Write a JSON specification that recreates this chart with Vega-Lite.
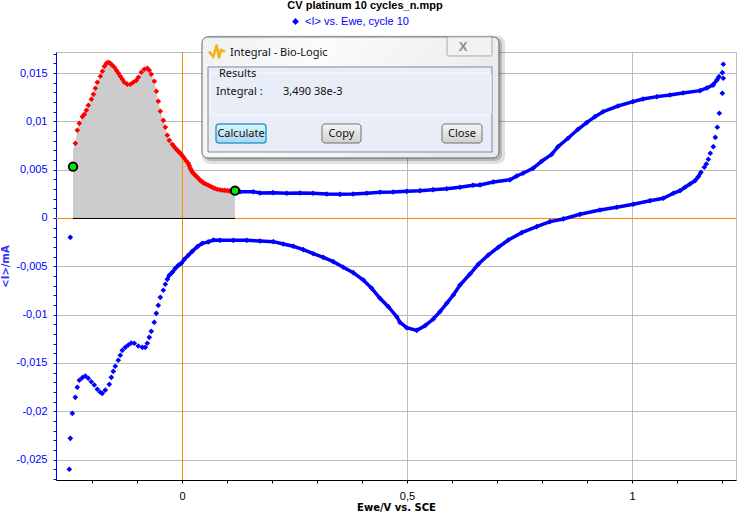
{
"$schema":"https://vega.github.io/schema/vega-lite/v6.json",
"width":680,"height":428,"autosize":"none",
"padding":{"left":56,"top":52,"right":1,"bottom":32},
"background":"white",
"view":{"stroke":"#bbbbbb"},
"config":{"font":"Liberation Sans"},
"title":{"text":"CV platinum 10 cycles_n.mpp","anchor":"middle","frame":"group","dx":-31,"offset":5,"fontSize":11,"fontWeight":"bold","font":"Liberation Sans","color":"black"},
"data":{"values":[{}]},
"datasets":{
"selected":[{"E":-0.2422,"I":0.0071,"edge":true},{"E":-0.237,"I":0.00773},{"E":-0.2327,"I":0.00908},{"E":-0.2282,"I":0.0098},{"E":-0.2215,"I":0.01049},{"E":-0.217,"I":0.01073},{"E":-0.2126,"I":0.01115},{"E":-0.2082,"I":0.01167},{"E":-0.2015,"I":0.01229},{"E":-0.197,"I":0.0128},{"E":-0.1926,"I":0.01343},{"E":-0.1882,"I":0.01405},{"E":-0.1815,"I":0.01467},{"E":-0.177,"I":0.01519},{"E":-0.1726,"I":0.0157},{"E":-0.1682,"I":0.016},{"E":-0.1637,"I":0.01612},{"E":-0.1593,"I":0.016},{"E":-0.1548,"I":0.0158},{"E":-0.1504,"I":0.0156},{"E":-0.146,"I":0.0153},{"E":-0.1415,"I":0.015},{"E":-0.137,"I":0.01467},{"E":-0.1326,"I":0.01436},{"E":-0.1282,"I":0.01405},{"E":-0.1215,"I":0.01384},{"E":-0.1148,"I":0.01384},{"E":-0.1082,"I":0.01405},{"E":-0.1015,"I":0.01425},{"E":-0.097,"I":0.01457},{"E":-0.0904,"I":0.01508},{"E":-0.0838,"I":0.01539},{"E":-0.077,"I":0.0155},{"E":-0.0727,"I":0.01529},{"E":-0.0682,"I":0.01488},{"E":-0.0615,"I":0.01415},{"E":-0.057,"I":0.01312},{"E":-0.0526,"I":0.01208},{"E":-0.0482,"I":0.01105},{"E":-0.0415,"I":0.01011},{"E":-0.037,"I":0.00939},{"E":-0.0326,"I":0.00856},{"E":-0.0282,"I":0.00804},{"E":-0.0215,"I":0.00763},{"E":-0.0181,"I":0.00742},{"E":-0.0148,"I":0.00722},{"E":-0.0115,"I":0.00706},{"E":-0.0082,"I":0.0069},{"E":-0.0048,"I":0.00674},{"E":-0.0015,"I":0.00659},{"E":0.0018,"I":0.00638},{"E":0.0051,"I":0.00618},{"E":0.0096,"I":0.0059},{"E":0.014,"I":0.00566},{"E":0.0162,"I":0.0054},{"E":0.0184,"I":0.00514},{"E":0.0207,"I":0.00493},{"E":0.0229,"I":0.00473},{"E":0.0262,"I":0.00457},{"E":0.0296,"I":0.00442},{"E":0.0329,"I":0.00426},{"E":0.0362,"I":0.00411},{"E":0.0395,"I":0.00395},{"E":0.0429,"I":0.0038},{"E":0.0462,"I":0.00369},{"E":0.0496,"I":0.00359},{"E":0.054,"I":0.00349},{"E":0.0584,"I":0.00339},{"E":0.0628,"I":0.00328},{"E":0.0673,"I":0.00318},{"E":0.0728,"I":0.00307},{"E":0.0784,"I":0.00297},{"E":0.084,"I":0.00292},{"E":0.0896,"I":0.00287},{"E":0.095,"I":0.00285},{"E":0.1007,"I":0.00283},{"E":0.1055,"I":0.0028},{"E":0.1104,"I":0.00276},{"E":0.1178,"I":0.00283,"edge":true}],
"cycle":[
{"b":"a","E":0.1178,"I":0.00283},{"b":"a","E":0.1289,"I":0.00272},{"b":"a","E":0.1584,"I":0.00272},{"b":"a","E":0.1733,"I":0.00259},{"b":"a","E":0.2022,"I":0.00262},{"b":"a","E":0.2327,"I":0.00256},{"b":"a","E":0.2622,"I":0.00259},{"b":"a","E":0.2911,"I":0.00256},{"b":"a","E":0.3216,"I":0.00248},{"b":"a","E":0.3511,"I":0.00245},{"b":"a","E":0.38,"I":0.00248},{"b":"a","E":0.4104,"I":0.00256},{"b":"a","E":0.44,"I":0.00266},{"b":"a","E":0.4689,"I":0.00269},{"b":"a","E":0.4993,"I":0.00276},{"b":"a","E":0.5289,"I":0.00283},{"b":"a","E":0.5578,"I":0.00293},{"b":"a","E":0.5882,"I":0.00303},{"b":"a","E":0.6178,"I":0.00318},{"b":"a","E":0.6467,"I":0.00339},{"b":"a","E":0.6622,"I":0.00342},{"b":"a","E":0.6918,"I":0.00373},{"b":"a","E":0.7289,"I":0.00396},{"b":"a","E":0.7438,"I":0.00435},{"b":"a","E":0.7578,"I":0.00463},{"b":"a","E":0.78,"I":0.00514},{"b":"a","E":0.7993,"I":0.00587},{"b":"a","E":0.8216,"I":0.00659},{"b":"a","E":0.8356,"I":0.00738},{"b":"a","E":0.8578,"I":0.00825},{"b":"a","E":0.88,"I":0.00918},{"b":"a","E":0.8993,"I":0.00987},{"b":"a","E":0.9178,"I":0.01049},{"b":"a","E":0.9356,"I":0.011},{"b":"a","E":0.9689,"I":0.01159},{"b":"a","E":1.0022,"I":0.01204},{"b":"a","E":1.0244,"I":0.01232},{"b":"a","E":1.0556,"I":0.01256},{"b":"a","E":1.0844,"I":0.01273},{"b":"a","E":1.1133,"I":0.01294},{"b":"a","E":1.1511,"I":0.01318},{"b":"a","E":1.1667,"I":0.01346},{"b":"a","E":1.18,"I":0.01377},{"b":"a","E":1.1889,"I":0.01429},{"b":"a","E":1.1933,"I":0.01463},
{"b":"c","E":1.1533,"I":0.00473},{"b":"c","E":1.1473,"I":0.00428},{"b":"c","E":1.14,"I":0.00386},{"b":"c","E":1.1289,"I":0.00352},{"b":"c","E":1.1178,"I":0.00318},{"b":"c","E":1.1067,"I":0.00283},{"b":"c","E":1.0918,"I":0.00256},{"b":"c","E":1.0696,"I":0.00204},{"b":"c","E":1.04,"I":0.00179},{"b":"c","E":1.0029,"I":0.00142},{"b":"c","E":0.966,"I":0.00111},{"b":"c","E":0.9289,"I":0.00083},{"b":"c","E":0.8844,"I":0.00038},{"b":"c","E":0.8473,"I":-0.0001},{"b":"c","E":0.8178,"I":-0.00038},{"b":"c","E":0.7882,"I":-0.0009},{"b":"c","E":0.7549,"I":-0.00152},{"b":"c","E":0.7251,"I":-0.00228},{"b":"c","E":0.7029,"I":-0.00303},{"b":"c","E":0.6807,"I":-0.00383},{"b":"c","E":0.6584,"I":-0.00479},{"b":"c","E":0.64,"I":-0.0058},{"b":"c","E":0.6178,"I":-0.00694},{"b":"c","E":0.6029,"I":-0.00797},{"b":"c","E":0.5882,"I":-0.00883},{"b":"c","E":0.5733,"I":-0.0097},{"b":"c","E":0.5584,"I":-0.01046},{"b":"c","E":0.54,"I":-0.01115},{"b":"c","E":0.5216,"I":-0.01163},{"b":"c","E":0.4993,"I":-0.01136},{"b":"c","E":0.4844,"I":-0.0108},{"b":"c","E":0.4771,"I":-0.01022},{"b":"c","E":0.4584,"I":-0.00918},{"b":"c","E":0.44,"I":-0.00831},{"b":"c","E":0.4216,"I":-0.00728},{"b":"c","E":0.4029,"I":-0.00642},{"b":"c","E":0.3807,"I":-0.00566},{"b":"c","E":0.3584,"I":-0.0051},{"b":"c","E":0.3362,"I":-0.00452},{"b":"c","E":0.314,"I":-0.00407},{"b":"c","E":0.2918,"I":-0.0037},{"b":"c","E":0.2696,"I":-0.00328},{"b":"c","E":0.2473,"I":-0.00293},{"b":"c","E":0.2251,"I":-0.00269},{"b":"c","E":0.2029,"I":-0.00245},{"b":"c","E":0.1733,"I":-0.00238},{"b":"c","E":0.1438,"I":-0.00231},{"b":"c","E":0.114,"I":-0.00231},{"b":"c","E":0.0844,"I":-0.00231},{"b":"c","E":0.0696,"I":-0.00228},{"b":"c","E":0.0584,"I":-0.00248},{"b":"c","E":0.0451,"I":-0.00262},{"b":"c","E":0.034,"I":-0.00297},{"b":"c","E":0.0229,"I":-0.00345},{"b":"c","E":0.014,"I":-0.00386},{"b":"c","E":0.0051,"I":-0.00428},{"b":"c","E":-0.0016,"I":-0.00469},{"b":"c","E":-0.0082,"I":-0.0049},{"b":"c","E":-0.0149,"I":-0.00521},{"b":"c","E":-0.0216,"I":-0.00562},{"b":"c","E":-0.0282,"I":-0.00593},{"b":"c","E":-0.0327,"I":-0.00635}],
"tips":[{"E":1.18,"I":0.01377},{"E":1.2029,"I":0.01591},{"E":1.2007,"I":0.01504},{"E":1.2029,"I":0.01446},{"E":1.2007,"I":0.01291},{"E":1.194,"I":0.01084},{"E":1.1896,"I":0.00939},{"E":1.1851,"I":0.00835},{"E":1.1807,"I":0.00738},{"E":1.174,"I":0.0067},{"E":1.1696,"I":0.00608},{"E":1.1651,"I":0.00559},{"E":1.1607,"I":0.00525},
{"E":-0.0371,"I":-0.00686},{"E":-0.0416,"I":-0.00748},{"E":-0.0482,"I":-0.00821},{"E":-0.0527,"I":-0.00904},{"E":-0.0571,"I":-0.00987},{"E":-0.0616,"I":-0.0108},{"E":-0.0682,"I":-0.01173},{"E":-0.0727,"I":-0.01235},{"E":-0.0771,"I":-0.01297},{"E":-0.0816,"I":-0.01339},{"E":-0.0882,"I":-0.01339},{"E":-0.0971,"I":-0.01325},{"E":-0.106,"I":-0.01297},{"E":-0.1127,"I":-0.01294},{"E":-0.1193,"I":-0.01315},{"E":-0.126,"I":-0.01339},{"E":-0.1327,"I":-0.0137},{"E":-0.1371,"I":-0.01421},{"E":-0.1416,"I":-0.01473},{"E":-0.1482,"I":-0.01535},{"E":-0.1527,"I":-0.01587},{"E":-0.1571,"I":-0.01649},{"E":-0.1616,"I":-0.01722},{"E":-0.1704,"I":-0.01781},{"E":-0.1771,"I":-0.01815},{"E":-0.1816,"I":-0.01804},{"E":-0.1882,"I":-0.01773},{"E":-0.1949,"I":-0.01729},{"E":-0.2016,"I":-0.01695},{"E":-0.2082,"I":-0.01659},{"E":-0.2149,"I":-0.01636},{"E":-0.2216,"I":-0.01653},{"E":-0.2282,"I":-0.0168},{"E":-0.2327,"I":-0.01753},{"E":-0.2371,"I":-0.01856},{"E":-0.2438,"I":-0.02022},{"E":-0.2482,"I":-0.02281},{"E":-0.2504,"I":-0.02601},{"E":-0.2482,"I":-0.002}],
"logo":[{"E":0.06,"I":0.01722},{"E":0.0696,"I":0.0167},{"E":0.0771,"I":0.01791},{"E":0.0822,"I":0.01653},{"E":0.0867,"I":0.01739},{"E":0.0956,"I":0.01722}],
"leftText":[{"E":0.1067,"I":0.01712,"t":"Integral - Bio-Logic"},{"E":0.0822,"I":0.01486,"t":"Results"},{"E":0.0756,"I":0.01299,"t":"Integral :"},{"E":0.2244,"I":0.01299,"t":"3,490 38e-3"}],
"centerText":[{"E":0.1311,"I":0.00872,"t":"Calculate"},{"E":0.3544,"I":0.00872,"t":"Copy"},{"E":0.6222,"I":0.00872,"t":"Close"}]
},
"layer":[
{"data":{"name":"selected"},"mark":{"type":"area","color":"#cccccc"},
 "encoding":{
 "x":{"field":"E","type":"quantitative","scale":{"domain":[-0.28,1.2311],"nice":false,"zero":false},
  "axis":{"title":"Ewe/V vs. SCE","titleFont":"DejaVu Sans","titleFontSize":10,"titleFontWeight":"bold","titleColor":"black","titleY":27,"titleBaseline":"middle",
   "values":[-0.2,-0.1,0,0.1,0.2,0.3,0.4,0.5,0.6,0.7,0.8,0.9,1,1.1,1.2],"tickCount":40,
   "labelExpr":"abs(datum.value*2-round(datum.value*2))<1e-6 ? replace(format(datum.value,'.1~f'),'.',',') : ''",
   "labelFontSize":11,"labelColor":"black","labelPadding":7,"labelOverlap":false,"labelFlush":false,
   "domainColor":"black","tickColor":"black","tickSize":3,
   "grid":true,"gridColor":"#bbbbbb","gridWidth":1,
   "gridOpacity":{"condition":{"test":"abs(datum.value*2-round(datum.value*2))<1e-6","value":1},"value":0},
   "encode":{"ticks":{"update":{"y2":{"signal":"abs(datum.value*2-round(datum.value*2))<1e-6 ? 6 : 3"}}}}}},
 "y":{"field":"I","type":"quantitative","scale":{"domain":[-0.02712,0.01718],"nice":false,"zero":false},
  "axis":{"title":"<I>/mA","titleFont":"DejaVu Sans","titleFontSize":10,"titleFontWeight":"bold","titleColor":"#3030ff","titleX":-51,"titleBaseline":"middle",
   "values":[-0.027,-0.026,-0.025,-0.024,-0.023,-0.022,-0.021,-0.02,-0.019,-0.018,-0.017,-0.016,-0.015,-0.014,-0.013,-0.012,-0.011,-0.01,-0.009,-0.008,-0.007,-0.006,-0.005,-0.004,-0.003,-0.002,-0.001,0,0.001,0.002,0.003,0.004,0.005,0.006,0.007,0.008,0.009,0.01,0.011,0.012,0.013,0.014,0.015,0.016,0.017],"tickCount":100,
   "labelExpr":"abs(datum.value/0.005-round(datum.value/0.005))<1e-6 ? replace(replace(format(datum.value,'.3~f'),'.',','),'−','-') : ''",
   "labelFontSize":11,"labelColor":"#0000ff","labelPadding":6,"labelOverlap":false,"labelFlush":false,
   "domainColor":"#0000ff","tickColor":"#0000ff","tickSize":3,
   "grid":true,"gridColor":"#bbbbbb","gridWidth":1,
   "gridOpacity":{"condition":{"test":"abs(datum.value/0.005-round(datum.value/0.005))<1e-6","value":1},"value":0},
   "encode":{"ticks":{"update":{"x2":{"signal":"abs(datum.value/0.005-round(datum.value/0.005))<1e-6 ? -6 : -3"}}}}}},
 "y2":{"datum":0}
 }},
{"mark":{"type":"rule","color":"#ff8800","strokeWidth":1},"encoding":{"x":{"datum":0.0011}}},
{"mark":{"type":"rule","color":"#ff8800","strokeWidth":1},"encoding":{"y":{"datum":-0.00005}}},
{"mark":{"type":"rule","color":"black","strokeWidth":1},"encoding":{"x":{"datum":-0.2422},"x2":{"datum":0.1178},"y":{"datum":-0.00005}}},
{"data":{"name":"cycle"},"mark":{"type":"line","color":"#0000ff","strokeWidth":3.5},"encoding":{"x":{"field":"E","type":"quantitative"},"y":{"field":"I","type":"quantitative"},"detail":{"field":"b"}}},
{"data":{"name":"cycle"},"mark":{"type":"point","shape":"diamond","filled":true,"size":32,"opacity":1},
 "encoding":{"x":{"field":"E","type":"quantitative"},"y":{"field":"I","type":"quantitative"},
 "color":{"datum":"<I> vs. Ewe, cycle 10","scale":{"range":["#0000ff"]},
  "legend":{"title":null,"orient":"none","legendX":234,"legendY":-36,"symbolType":"diamond","symbolSize":22,"symbolFillColor":"#0000ff","symbolStrokeColor":"#0000ff","labelColor":"#0000ff","labelFontSize":11,"labelFont":"Liberation Sans","padding":0}}}},
{"data":{"name":"tips"},"mark":{"type":"point","shape":"diamond","filled":true,"size":32,"color":"#0000ff","opacity":1},"encoding":{"x":{"field":"E","type":"quantitative"},"y":{"field":"I","type":"quantitative"}}},
{"data":{"name":"selected"},"transform":[{"filter":"!datum.edge"}],"mark":{"type":"point","shape":"diamond","filled":true,"size":32,"color":"#ff0000","opacity":1},"encoding":{"x":{"field":"E","type":"quantitative"},"y":{"field":"I","type":"quantitative"}}},
{"data":{"values":[{"E":-0.2422,"I":0.00531},{"E":0.1178,"I":0.00283}]},"mark":{"type":"point","shape":"circle","filled":true,"size":70,"color":"#00ee00","stroke":"black","strokeWidth":2,"opacity":1},"encoding":{"x":{"field":"E","type":"quantitative"},"y":{"field":"I","type":"quantitative"}}},
{"mark":{"type":"rect","color":"#000000","opacity":0.12,"cornerRadius":8},"encoding":{"x":{"datum":0.0444},"x2":{"datum":0.7178},"y":{"datum":0.0189},"y2":{"datum":0.0056}}},
{"mark":{"type":"rect","color":"#000000","opacity":0.18,"cornerRadius":7},"encoding":{"x":{"datum":0.0489},"x2":{"datum":0.7111},"y":{"datum":0.0187},"y2":{"datum":0.0059}}},
{"mark":{"type":"rect","fill":{"gradient":"linear","x1":0,"y1":0,"x2":1,"y2":0.3,"stops":[{"offset":0,"color":"#eef0f3"},{"offset":0.4,"color":"#fbfbfb"},{"offset":1,"color":"#e9ecef"}]},"stroke":"#5f6366","strokeWidth":1,"cornerRadius":6},"encoding":{"x":{"datum":0.0444},"x2":{"datum":0.7044},"y":{"datum":0.01874},"y2":{"datum":0.00621}}},
{"mark":{"type":"rect","fill":"#f2f2f2","stroke":"#a8a8a8","strokeWidth":1,"cornerRadius":2},"encoding":{"x":{"datum":0.5889},"x2":{"datum":0.6889},"y":{"datum":0.01874},"y2":{"datum":0.01677}}},
{"mark":{"type":"text","text":"X","font":"Liberation Sans","fontWeight":"bold","fontSize":13,"color":"#8a8f96","align":"center","baseline":"middle"},"encoding":{"x":{"datum":0.6244},"y":{"datum":0.0177}}},
{"mark":{"type":"rect","fill":"#e8edf8","stroke":"#7d8a99","strokeWidth":1},"encoding":{"x":{"datum":0.0578},"x2":{"datum":0.6889},"y":{"datum":0.01563},"y2":{"datum":0.00683}}},
{"mark":{"type":"rect","fill":"#e8edf8","stroke":"#f8fafd","strokeWidth":1,"cornerRadius":2},"encoding":{"x":{"datum":0.0622},"x2":{"datum":0.6867},"y":{"datum":0.01501},"y2":{"datum":0.01066}}},
{"mark":{"type":"rect","fill":"#e8edf8"},"encoding":{"x":{"datum":0.0778},"x2":{"datum":0.1667},"y":{"datum":0.01522},"y2":{"datum":0.0148}}},
{"mark":{"type":"rect","fill":{"gradient":"linear","x1":0,"y1":0,"x2":0,"y2":1,"stops":[{"offset":0,"color":"#dff3fc"},{"offset":1,"color":"#a8d8f0"}]},"stroke":"#2f9fd0","strokeWidth":1.5,"cornerRadius":3},"encoding":{"x":{"datum":0.0756},"x2":{"datum":0.1867},"y":{"datum":0.00973},"y2":{"datum":0.00776}}},
{"mark":{"type":"rect","fill":{"gradient":"linear","x1":0,"y1":0,"x2":0,"y2":1,"stops":[{"offset":0,"color":"#f6f6f6"},{"offset":1,"color":"#d0d0d0"}]},"stroke":"#707070","strokeWidth":1,"cornerRadius":3},"encoding":{"x":{"datum":0.3111},"x2":{"datum":0.3978},"y":{"datum":0.00973},"y2":{"datum":0.00776}}},
{"mark":{"type":"rect","fill":{"gradient":"linear","x1":0,"y1":0,"x2":0,"y2":1,"stops":[{"offset":0,"color":"#f6f6f6"},{"offset":1,"color":"#d0d0d0"}]},"stroke":"#707070","strokeWidth":1,"cornerRadius":3},"encoding":{"x":{"datum":0.5778},"x2":{"datum":0.6667},"y":{"datum":0.00973},"y2":{"datum":0.00776}}},
{"data":{"name":"logo"},"mark":{"type":"line","color":"#f5b010","strokeWidth":2.5},"encoding":{"x":{"field":"E","type":"quantitative"},"y":{"field":"I","type":"quantitative"}}},
{"data":{"name":"leftText"},"mark":{"type":"text","font":"Noto Sans","fontSize":11,"color":"#101010","align":"left","baseline":"middle"},"encoding":{"x":{"field":"E","type":"quantitative"},"y":{"field":"I","type":"quantitative"},"text":{"field":"t"}}},
{"data":{"name":"centerText"},"mark":{"type":"text","font":"Noto Sans","fontSize":11,"color":"#101010","align":"center","baseline":"middle"},"encoding":{"x":{"field":"E","type":"quantitative"},"y":{"field":"I","type":"quantitative"},"text":{"field":"t"}}}
]
}
